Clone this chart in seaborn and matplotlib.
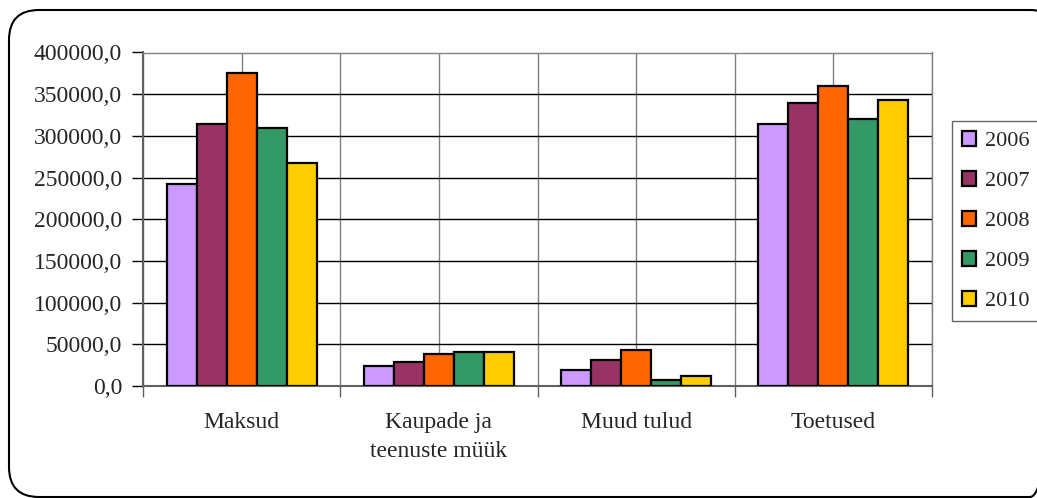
import pandas as pd
import matplotlib.pyplot as plt
import seaborn as sns
from matplotlib.patches import FancyBboxPatch
from matplotlib.ticker import FuncFormatter, FixedLocator

# ===============================
# Data
# ===============================
categories = ["Maksud", "Kaupade ja\nteenuste müük", "Muud tulud", "Toetused"]
years = ["2006", "2007", "2008", "2009", "2010"]
v2006 = [242000, 24000, 19000, 314000]
v2007 = [314000, 28800, 30800, 340000]
v2008 = [376000, 38400, 43000, 359500]
v2009 = [309000, 40800, 7200, 320500]
v2010 = [268000, 40400, 12000, 342500]
colors = ["#CC99FF", "#993366", "#FF6600", "#339966", "#FFCC00"]

rows = []
for yr, vals in zip(years, [v2006, v2007, v2008, v2009, v2010]):
    for cat, v in zip(categories, vals):
        rows.append({"kategooria": cat, "aasta": yr, "summa": v})
df = pd.DataFrame(rows)

# ===============================
# Plot
# ===============================
sns.set_style("white")
plt.rcParams['font.family'] = ['Liberation Serif', 'DejaVu Serif']

W, H = 1037, 498
fig = plt.figure(figsize=(W / 100, H / 100), dpi=100)

# background axes in pixel units for the rounded frame
bg = fig.add_axes([0, 0, 1, 1], zorder=-1)
bg.set_xlim(0, W)
bg.set_ylim(H, 0)
bg.axis("off")
bg.add_patch(FancyBboxPatch((9, 10), 1060 - 9, 497 - 10,
                            boxstyle="round,pad=0,rounding_size=30",
                            facecolor="none", edgecolor="black", linewidth=1.5,
                            clip_on=False))

ax = fig.add_axes([143 / W, 1 - 386 / H, (932 - 143) / W, (386 - 52.5) / H])

sns.barplot(data=df, x="kategooria", y="summa", hue="aasta", order=categories,
            hue_order=years, palette=colors, saturation=1, width=0.76,
            edgecolor="black", linewidth=1.6, ax=ax, zorder=3)

ax.set_ylim(0, 400000)
ax.set_xlim(-0.5, 3.5)
ax.set_yticks(range(0, 400001, 50000))
ax.yaxis.set_major_formatter(FuncFormatter(lambda v, p: f"{v:.1f}".replace(".", ",")))
ax.set_xlabel("")
ax.set_ylabel("")

# gridlines
ax.xaxis.set_minor_locator(FixedLocator([-0.5, 0.5, 1.5, 2.5, 3.5]))
ax.grid(axis="y", color="black", linewidth=1.0, zorder=0)
ax.grid(axis="x", which="major", color="#808080", linewidth=1.0, zorder=0)
ax.grid(axis="x", which="minor", color="#808080", linewidth=1.0, zorder=0)
ax.set_axisbelow(True)

ax.tick_params(axis="y", direction="out", length=8, width=1, color="black",
               pad=7, labelsize=17, left=True)
ax.tick_params(axis="x", which="major", length=0, pad=19, labelsize=17)
ax.tick_params(axis="x", which="minor", direction="out", length=8, width=1,
               color="#606060", bottom=True)
for lbl in ax.get_xticklabels():
    lbl.set_linespacing(1.5)

for side in ["left", "bottom"]:
    ax.spines[side].set_color("#606060")
    ax.spines[side].set_linewidth(1.5)
for side in ["top", "right"]:
    ax.spines[side].set_color("#808080")
    ax.spines[side].set_linewidth(1.0)

# legend
handles, labels = ax.get_legend_handles_labels()
ax.legend(handles, labels, loc="upper left",
          bbox_to_anchor=(952 / W, 1 - 121 / H), bbox_transform=fig.transFigure,
          frameon=True, fancybox=False, edgecolor="#404040", fontsize=16,
          handlelength=0.65, handleheight=0.65, handletextpad=0.4,
          labelspacing=0.89, borderpad=0.45, borderaxespad=0)
ax.get_legend().get_frame().set_linewidth(1.0)

plt.savefig("out.png", dpi=100)
